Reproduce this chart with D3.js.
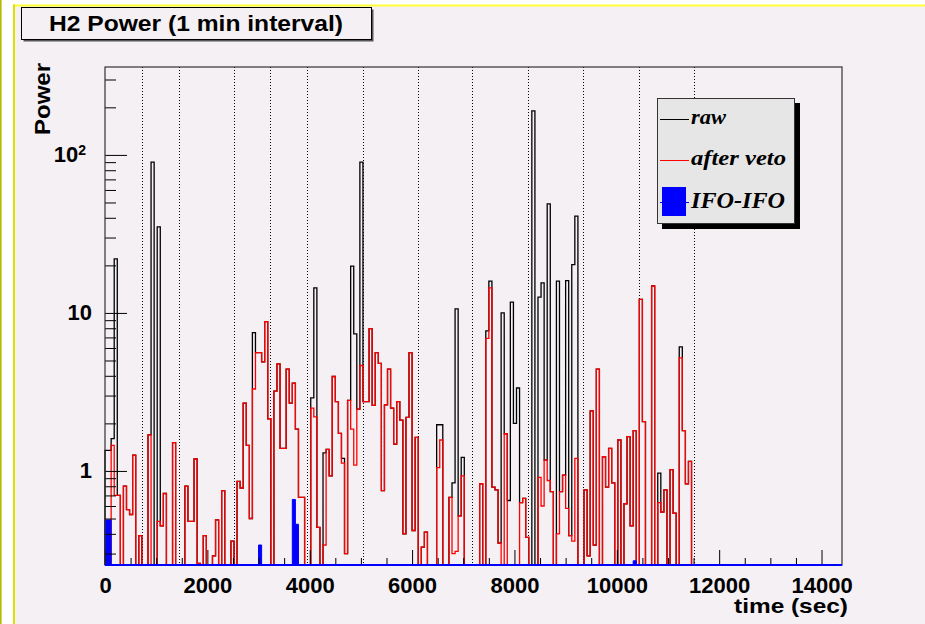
<!DOCTYPE html>
<html><head><meta charset="utf-8">
<script src="https://cdn.jsdelivr.net/npm/d3@7"></script>
<style>body{margin:0;background:#fff;} svg{display:block}</style>
</head><body><svg id="c" width="925" height="624"></svg>
<script>
// ---------------- data ----------------
const binSeconds = 60;                 // 1 min interval
const timeMax = 14400;                 // x axis range end (sec)
const rawPower = [
 1.35,1.35,1.6,22,0.7,0,0.8,0.57,0.53,1.26,
 0,0.39,0,0,1.69,90,0,35,0.45,0.72,
 0,0,1.51,0,0,0,0.8,0.48,0.48,1.19,
 0.26,0,0.39,0,0,0.29,0.49,0,0.75,0,
 0,0.36,0,0.86,0.78,2.69,1.45,0.5,7.5,5.6,
 5.6,4.9,8.8,2.14,0,3.2,4.76,1.39,1.39,4.4,
 2.69,3.6,1.84,0.68,0.68,0,0,2.9,14.4,0.44,
 0,1.3,1.37,0.93,3.96,2.75,1.73,1.2,0.3,2.8,
 19.8,7.36,2.46,90,2.75,2.75,7.96,2.6,5.6,4.8,
 0.75,2.62,4.4,2.5,1.48,2.75,2.1,0.4,2.18,5.6,
 0.42,1.63,0,0.33,0.41,0,0,0,1.96,1.96,
 0,0,0.68,0.84,10.6,0.52,1.22,0,0,0,
 0,0,0.83,0,7.7,15.9,0.79,0.76,0.35,10,
 1.72,0.65,11.7,2.0,3.35,0.63,0.67,0.38,0,190,
 0,12.6,15.5,1.17,49,0.74,0,15.9,0.74,0.94,
 16,0.39,20.2,41,0,0,0.76,0.29,2.4,0.34,
 4.4,0,1.23,0.79,1.39,0.84,0,1.57,0,0.62,
 1.65,0.45,1.8,0,12.2,2.05,0,0,14.8,0,
 0.97,0.55,0.76,0,1.02,0.54,0,6.1,1.8,0.83,1.15
];
const vetoPower = [
 0,0,1.45,0.7,0.7,0,0.8,0.57,0.53,1.26,
 0,0.39,0,0,1.69,0,0,0.48,0.45,0.72,
 0,0,1.51,0,0,0,0.8,0.48,0.48,1.19,
 0.26,0,0.39,0,0,0.29,0.49,0,0.75,0,
 0,0.36,0,0.86,0.78,2.69,1.45,0.5,3.3,5.6,
 5.6,4.9,8.8,2.14,0,3.2,4.76,1.39,1.39,4.4,
 2.69,3.6,1.84,0.68,0.68,0,0,2.5,2.2,0.44,
 0,0.34,1.37,0.93,3.96,2.75,1.73,1.12,0.3,2.8,
 1.84,1.09,2.46,4.65,2.75,2.75,7.96,2.6,5.6,4.8,
 0.75,2.62,4.4,2.5,1.48,2.75,2.1,0.4,2.18,5.6,
 0.42,1.63,0,0.33,0.41,0,0,0,1.05,1.57,
 0,0,0.68,0.3,0.31,0.52,0.93,0,0,0,
 0,0,0.83,0,6.9,14.4,0.79,0.76,0.35,0,
 1.72,0,0,0,0,0.63,0.67,0.38,0,0,
 0,0.91,0.6,1.17,0.87,0.74,0,0.4,0.74,0.94,
 0.58,0.39,0.36,1.2,0,0,0.76,0.29,2.4,0.34,
 4.4,0,1.23,0.79,1.39,0.84,0,1.57,0,0.62,
 1.65,0.45,1.8,0,12.2,2.05,0,0,14.8,0,
 0.63,0.55,0.76,0,1.02,0.54,0,5.2,1.8,0.83,1.15
];
const ifoBins = [0, 1, 50, 61, 62, 172];
const ifoPower = [0.49, 0.49, 0.34, 0.66, 0.46, 0.27];
const segmentTimes = [717, 1446, 2526, 3224, 3941, 5035, 6116, 7171, 8261, 9341, 10429, 11509];
const xMajorTicks = [0, 2000, 4000, 6000, 8000, 10000, 12000, 14000];
const yMajorTicks = [1, 10, 100];
const yMinorTicks = [0.3,0.4,0.5,0.6,0.7,0.8,0.9,2,3,4,5,6,7,8,9,20,30,40,50,60,70,80,90,200,300];
const legendLabels = ["raw", "after veto", "IFO-IFO"];
const titleText = "H2 Power (1 min interval)";

// ---------------- layout ----------------
const svg = d3.select("#c");
const L = 105, R = 842, T = 67, B = 565;
const bg = "#f4f0f4";
const x = d3.scaleLinear().domain([0, timeMax]).range([L, R]);
const y = d3.scaleLog().domain([0.254, 360]).range([B, T]);
const nBins = Math.round(timeMax / binSeconds);

// page frame
svg.append("rect").attr("x",0).attr("y",0).attr("width",925).attr("height",624).attr("fill","#fff");
svg.append("rect").attr("x",14).attr("y",5).attr("width",911).attr("height",619).attr("fill",bg);
svg.append("line").attr("x1",0.8).attr("x2",0.8).attr("y1",0).attr("y2",624).attr("stroke","#b8b800").attr("stroke-width",1.6);
svg.append("line").attr("x1",13).attr("x2",925).attr("y1",5.5).attr("y2",5.5).attr("stroke","#ffff30").attr("stroke-width",2);
svg.append("line").attr("x1",14).attr("x2",14).attr("y1",4.5).attr("y2",624).attr("stroke","#dede00").attr("stroke-width",2);

// title box
svg.append("rect").attr("x",23.5).attr("y",9.5).attr("width",350).attr("height",32).attr("fill","#555");
svg.append("rect").attr("x",21.5).attr("y",7.5).attr("width",350).attr("height",32).attr("fill",bg).attr("stroke","#000").attr("stroke-width",1);
svg.append("text").attr("x",196).attr("y",31).attr("text-anchor","middle")
  .attr("font-family","Liberation Sans, Arial, sans-serif").attr("font-weight","bold").attr("font-size",22)
  .attr("textLength",294).attr("lengthAdjust","spacingAndGlyphs").text(titleText);

// plot area
const plot = svg.append("g");
plot.append("rect").attr("x",L).attr("y",T).attr("width",R-L).attr("height",B-T).attr("fill",bg);

// segment dotted lines
plot.selectAll("line.seg").data(segmentTimes).enter().append("line")
  .attr("x1",d=>Math.round(x(d))+0.5).attr("x2",d=>Math.round(x(d))+0.5)
  .attr("y1",T).attr("y2",B).attr("stroke","#000").attr("stroke-width",1).attr("stroke-dasharray","1,2");

function yPos(v){ return v > 0 ? Math.max(T, Math.min(B, y(v))) : B; }
function stepPath(vals){
  const p = d3.path();
  p.moveTo(x(0), B);
  for (let i = 0; i < nBins; i++) {
    const v = i < vals.length ? vals[i] : 0;
    const yy = yPos(v);
    p.lineTo(x(i*binSeconds), yy);
    p.lineTo(x((i+1)*binSeconds), yy);
  }
  p.lineTo(x(nBins*binSeconds), B);
  return p.toString();
}
plot.append("path").attr("d",stepPath(rawPower)).attr("fill","none").attr("stroke","#000").attr("stroke-width",1.3);
plot.append("path").attr("d",stepPath(vetoPower)).attr("fill","none").attr("stroke","#ff0000").attr("stroke-width",1.3);

// IFO-IFO filled bins
const ifoVals = new Array(nBins).fill(0);
ifoBins.forEach((b,k)=>{ ifoVals[b] = ifoPower[k]; });
plot.append("path").attr("d",stepPath(ifoVals)).attr("fill","#0000ff").attr("stroke","#0000ff").attr("stroke-width",1);

// axes
const axFont = "Liberation Sans, Arial, sans-serif";
const xMinorTicks = d3.range(0, timeMax+1, 500).filter(d=>d%2000!==0);
const gxMin = svg.append("g").attr("transform",`translate(0,${B})`)
  .call(d3.axisBottom(x).tickValues(xMinorTicks).tickSize(-7).tickFormat(""));
const gx = svg.append("g").attr("transform",`translate(0,${B})`)
  .call(d3.axisBottom(x).tickValues(xMajorTicks).tickSize(-15).tickPadding(12).tickFormat(d3.format("d")));
const gyMin = svg.append("g").attr("transform",`translate(${L},0)`)
  .call(d3.axisLeft(y).tickValues(yMinorTicks).tickSize(-11).tickFormat(""));
const gy = svg.append("g").attr("transform",`translate(${L},0)`)
  .call(d3.axisLeft(y).tickValues(yMajorTicks).tickSize(-22).tickPadding(13)
  .tickFormat(d => d === 100 ? "10" : String(d)));
[gx,gxMin,gy,gyMin].forEach(g=>{
  g.select(".domain").remove();
  g.selectAll(".tick line").attr("stroke","#000").attr("stroke-width",1);
  g.selectAll("text").attr("font-family",axFont).attr("font-weight","bold").attr("font-size",22).attr("fill","#000");
});
gy.selectAll(".tick").filter(d=>d===100).select("text")
  .attr("x",-19).append("tspan").attr("dy","-0.55em").attr("font-size",14).text("2");

// frame
svg.append("rect").attr("x",L).attr("y",T).attr("width",R-L).attr("height",B-T)
  .attr("fill","none").attr("stroke","#333").attr("stroke-width",1.2);
svg.append("line").attr("x1",L).attr("x2",R).attr("y1",B).attr("y2",B).attr("stroke","#0000ff").attr("stroke-width",2);

// axis titles
svg.append("text").attr("x",848).attr("y",613).attr("text-anchor","end")
  .attr("font-family",axFont).attr("font-weight","bold").attr("font-size",21)
  .attr("textLength",114).attr("lengthAdjust","spacingAndGlyphs").text("time (sec)");
svg.append("text").attr("transform","translate(50,63) rotate(-90)").attr("text-anchor","end")
  .attr("font-family",axFont).attr("font-weight","bold").attr("font-size",22)
  .attr("textLength",72).attr("lengthAdjust","spacingAndGlyphs").text("Power");

// legend
const lg = svg.append("g");
lg.append("rect").attr("x",662).attr("y",103).attr("width",138).attr("height",126).attr("fill","#000");
lg.append("rect").attr("x",657.5).attr("y",98.5).attr("width",137).attr("height",125).attr("fill","#e6e6e6").attr("stroke","#333").attr("stroke-width",1);
const serif = "Liberation Serif, Times New Roman, serif";
lg.append("line").attr("x1",660).attr("x2",689).attr("y1",119.5).attr("y2",119.5).attr("stroke","#000");
lg.append("line").attr("x1",660).attr("x2",689).attr("y1",160.5).attr("y2",160.5).attr("stroke","#ff0000");
lg.append("line").attr("x1",660).attr("x2",689).attr("y1",202.5).attr("y2",202.5).attr("stroke","#0000ff");
lg.append("rect").attr("x",662).attr("y",187).attr("width",24).attr("height",29).attr("fill","#0000ff");
const legY = [124, 165, 208], legW = [35, 95, 94], legS = [22, 22, 24];
legendLabels.forEach((t,i)=>{
  lg.append("text").attr("x",691).attr("y",legY[i]).attr("font-family",serif)
    .attr("font-weight","bold").attr("font-style","italic").attr("font-size",legS[i])
    .attr("textLength",legW[i]).attr("lengthAdjust","spacingAndGlyphs").text(t);
});
</script></body></html>
